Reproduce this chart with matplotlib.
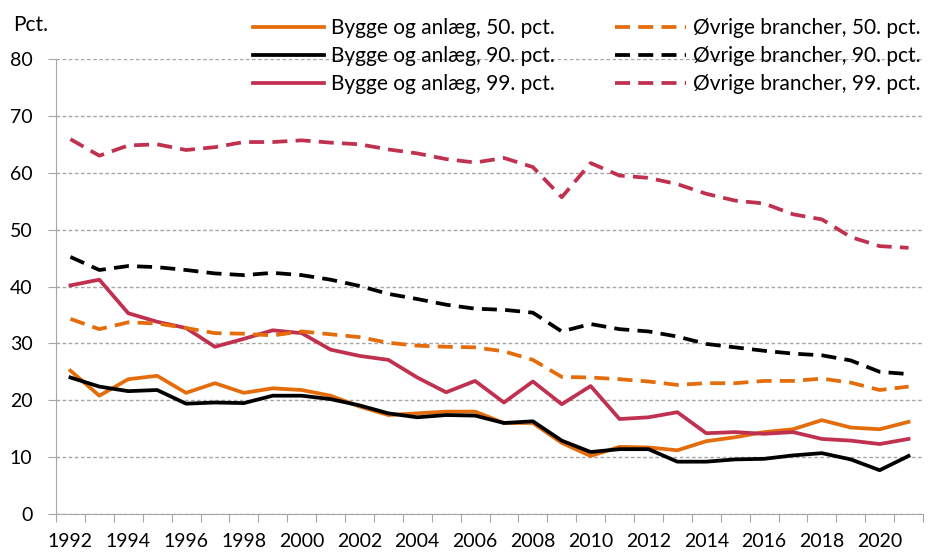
import numpy as np
import matplotlib.pyplot as plt
from matplotlib.ticker import FixedLocator, NullFormatter

plt.rcParams['font.family'] = ['Lato', 'DejaVu Sans']

years = np.arange(1992, 2022)

# Bygge og anlæg
bygge_50 = [25.2, 20.8, 23.7, 24.3, 21.3, 23.0, 21.3, 22.1, 21.8, 20.8,
            18.9, 17.4, 17.7, 18.0, 18.0, 16.0, 16.0, 12.5, 10.2, 11.8,
            11.7, 11.2, 12.8, 13.5, 14.4, 14.9, 16.5, 15.2, 14.9, 16.2]
bygge_90 = [24.0, 22.4, 21.6, 21.8, 19.4, 19.6, 19.5, 20.8, 20.8, 20.2,
            19.1, 17.7, 17.0, 17.4, 17.3, 16.0, 16.3, 12.9, 10.9, 11.4,
            11.4, 9.2, 9.2, 9.6, 9.7, 10.3, 10.7, 9.6, 7.7, 10.2]
bygge_99 = [40.2, 41.2, 35.3, 33.8, 32.7, 29.4, 30.8, 32.3, 31.8, 28.9,
            27.8, 27.1, 24.0, 21.4, 23.4, 19.6, 23.3, 19.3, 22.5, 16.7,
            17.0, 17.9, 14.2, 14.4, 14.1, 14.4, 13.2, 12.9, 12.3, 13.2]

# Øvrige brancher
oevr_50 = [34.3, 32.5, 33.7, 33.5, 32.7, 31.8, 31.7, 31.4, 32.1, 31.6,
           31.1, 30.1, 29.6, 29.4, 29.3, 28.6, 27.1, 24.1, 24.0, 23.7,
           23.3, 22.7, 23.0, 23.0, 23.4, 23.4, 23.8, 23.1, 21.8, 22.4]
oevr_90 = [45.2, 42.9, 43.6, 43.4, 42.9, 42.3, 42.0, 42.4, 42.0, 41.2,
           40.1, 38.7, 37.8, 36.8, 36.1, 35.9, 35.4, 32.1, 33.4, 32.5,
           32.1, 31.2, 29.9, 29.3, 28.7, 28.2, 27.9, 27.0, 25.0, 24.6]
oevr_99 = [65.9, 63.0, 64.8, 65.0, 64.0, 64.5, 65.4, 65.4, 65.7, 65.3,
           65.0, 64.1, 63.4, 62.4, 61.8, 62.6, 61.0, 55.7, 61.7, 59.5,
           59.1, 58.0, 56.3, 55.1, 54.6, 52.7, 51.8, 48.7, 47.1, 46.8]

orange = '#E46C0A'
crimson = '#C0304F'
grey = '#A6A6A6'
dash = (4.0, 2.2)
lw = 2.7

fig = plt.figure(figsize=(9.37, 5.54), dpi=100)
ax = fig.add_axes([56 / 937, 40 / 554, 867 / 937, 455 / 554])

ax.plot(years, bygge_50, color=orange, lw=lw, label='Bygge og anlæg, 50. pct.')
ax.plot(years, bygge_90, color='black', lw=lw, label='Bygge og anlæg, 90. pct.')
ax.plot(years, bygge_99, color=crimson, lw=lw, label='Bygge og anlæg, 99. pct.')
ax.plot(years, oevr_50, color=orange, lw=lw, dashes=dash, label='Øvrige brancher, 50. pct.')
ax.plot(years, oevr_90, color='black', lw=lw, dashes=dash, label='Øvrige brancher, 90. pct.')
ax.plot(years, oevr_99, color=crimson, lw=lw, dashes=dash, label='Øvrige brancher, 99. pct.')

ax.set_xlim(1991.5, 2021.5)
ax.set_ylim(0, 80)
ax.set_yticks(range(0, 81, 10))
ax.yaxis.grid(True, color=grey, ls=(0, (2.6, 1.8)), lw=1)
ax.set_axisbelow(True)

# category ticks between years, labels every other year
ax.xaxis.set_major_locator(FixedLocator(np.arange(1991.5, 2022, 1)))
ax.xaxis.set_major_formatter(NullFormatter())
ax.xaxis.set_minor_locator(FixedLocator(years[::2]))
ax.set_xticklabels([str(y) for y in years[::2]], minor=True)
ax.tick_params(axis='x', which='major', length=6, color=grey)
ax.tick_params(axis='x', which='minor', length=0, pad=14, labelsize=14)
ax.tick_params(axis='y', length=6, color=grey, labelsize=14, pad=11)

for s in ['top', 'right']:
    ax.spines[s].set_visible(False)
for s in ['left', 'bottom']:
    ax.spines[s].set_color(grey)

fig.text(13 / 937, 1 - 25 / 554, 'Pct.', fontsize=15, va='center', ha='left')

handles, labels = ax.get_legend_handles_labels()
leg = fig.legend(handles, labels, ncol=2, loc='upper right',
                 bbox_to_anchor=(929 / 937, 1 - 10 / 554), frameon=False,
                 fontsize=15, handlelength=3.4, handletextpad=0.35,
                 columnspacing=2.9, labelspacing=0.38, borderaxespad=0,
                 borderpad=0.4)

fig.savefig('out.png', dpi=100)
